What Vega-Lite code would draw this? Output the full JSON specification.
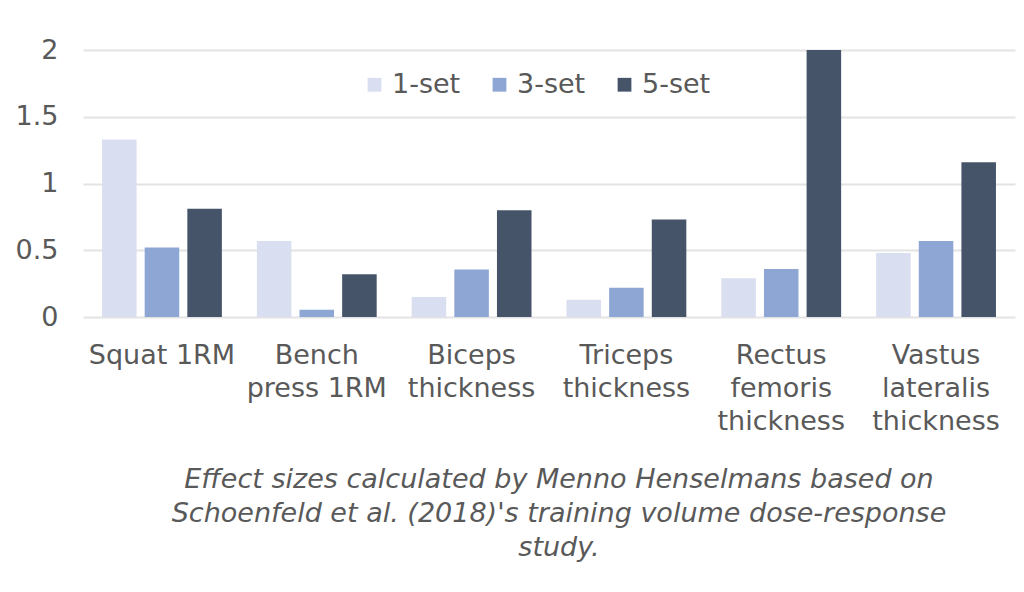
{
  "$schema": "https://vega.github.io/schema/vega-lite/v6.json",
  "width": 932,
  "height": 267,
  "autosize": "none",
  "padding": {"left": 83, "top": 50, "right": 9, "bottom": 275},
  "background": "white",
  "data": {
    "values": [
      {"measure": "Squat 1RM", "group": "1-set", "effect": 1.33},
      {"measure": "Squat 1RM", "group": "3-set", "effect": 0.52},
      {"measure": "Squat 1RM", "group": "5-set", "effect": 0.81},
      {"measure": "Bench press 1RM", "group": "1-set", "effect": 0.57},
      {"measure": "Bench press 1RM", "group": "3-set", "effect": 0.055},
      {"measure": "Bench press 1RM", "group": "5-set", "effect": 0.32},
      {"measure": "Biceps thickness", "group": "1-set", "effect": 0.15},
      {"measure": "Biceps thickness", "group": "3-set", "effect": 0.355},
      {"measure": "Biceps thickness", "group": "5-set", "effect": 0.8},
      {"measure": "Triceps thickness", "group": "1-set", "effect": 0.13},
      {"measure": "Triceps thickness", "group": "3-set", "effect": 0.22},
      {"measure": "Triceps thickness", "group": "5-set", "effect": 0.73},
      {"measure": "Rectus femoris thickness", "group": "1-set", "effect": 0.29},
      {"measure": "Rectus femoris thickness", "group": "3-set", "effect": 0.36},
      {"measure": "Rectus femoris thickness", "group": "5-set", "effect": 2.0},
      {"measure": "Vastus lateralis thickness", "group": "1-set", "effect": 0.48},
      {"measure": "Vastus lateralis thickness", "group": "3-set", "effect": 0.57},
      {"measure": "Vastus lateralis thickness", "group": "5-set", "effect": 1.16}
    ]
  },
  "title": {
    "text": [
      "Effect sizes calculated by Menno Henselmans based on",
      "Schoenfeld et al. (2018)'s training volume dose-response",
      "study."
    ],
    "orient": "bottom",
    "anchor": "middle",
    "frame": "group",
    "offset": 33,
    "dx": 10,
    "font": "DejaVu Sans",
    "fontSize": 27,
    "fontStyle": "italic",
    "fontWeight": "normal",
    "lineHeight": 34,
    "color": "#595959"
  },
  "mark": {"type": "bar"},
  "encoding": {
    "x": {
      "field": "measure",
      "type": "nominal",
      "sort": null,
      "scale": {"paddingInner": 0.226, "paddingOuter": 0.123},
      "axis": {
        "title": null,
        "labelAngle": 0,
        "domain": false,
        "ticks": false,
        "labelPadding": 38,
        "labelFont": "DejaVu Sans",
        "labelFontSize": 27,
        "labelColor": "#595959",
        "labelLineHeight": 33,
        "labelBaseline": "middle",
        "labelExpr": "datum.value == 'Squat 1RM' ? 'Squat 1RM' : datum.value == 'Bench press 1RM' ? ['Bench', 'press 1RM'] : split(datum.value, ' ')"
      }
    },
    "xOffset": {
      "field": "group",
      "type": "nominal",
      "scale": {"paddingInner": 0.19, "paddingOuter": 0}
    },
    "y": {
      "field": "effect",
      "type": "quantitative",
      "scale": {"domain": [0, 2], "nice": false},
      "axis": {
        "title": null,
        "values": [0, 0.5, 1, 1.5, 2],
        "format": "~g",
        "domain": false,
        "ticks": false,
        "labelPadding": 25,
        "labelFont": "DejaVu Sans",
        "labelFontSize": 27,
        "labelColor": "#595959",
        "gridColor": "#e3e3e3",
        "gridWidth": 2
      }
    },
    "color": {
      "field": "group",
      "type": "nominal",
      "scale": {
        "domain": ["1-set", "3-set", "5-set"],
        "range": ["#d9dff0", "#8ea6d4", "#46546a"]
      },
      "legend": {
        "title": null,
        "orient": "none",
        "direction": "horizontal",
        "legendX": 278,
        "legendY": 21,
        "symbolType": "square",
        "symbolSize": 190,
        "symbolStrokeWidth": 0,
        "labelFont": "DejaVu Sans",
        "labelFontSize": 27,
        "labelColor": "#595959",
        "labelOffset": 4,
        "columnPadding": 25
      }
    }
  },
  "config": {
    "view": {"stroke": null}
  }
}
